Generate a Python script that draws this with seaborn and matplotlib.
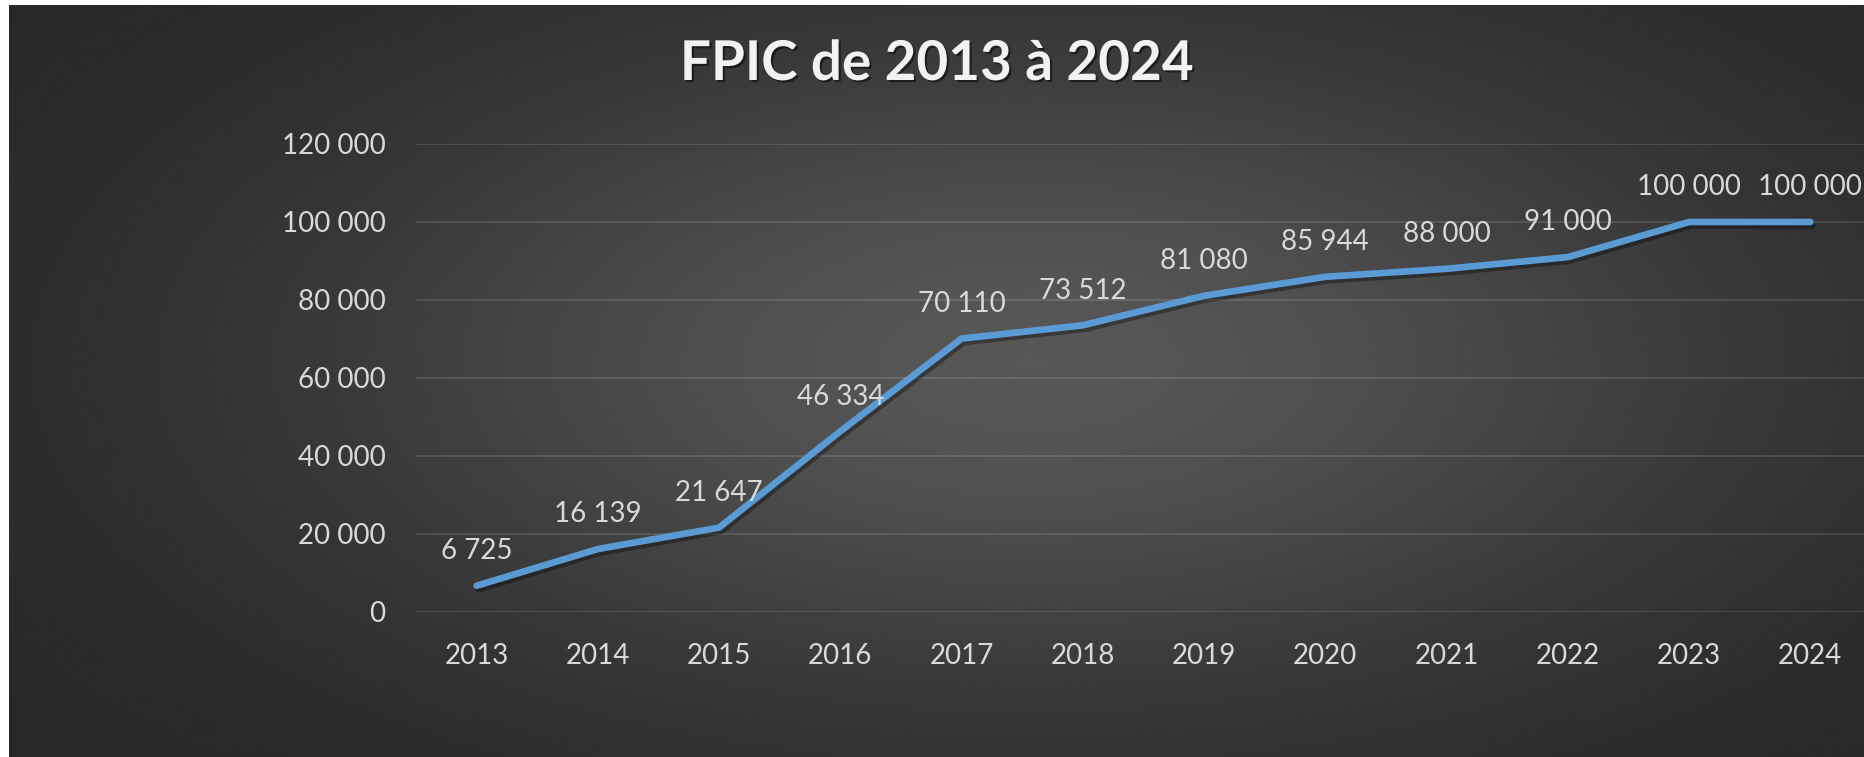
import numpy as np
import pandas as pd
import matplotlib
matplotlib.use("Agg")
import matplotlib.pyplot as plt
import matplotlib.patheffects as pe
from matplotlib.ticker import FuncFormatter
import seaborn as sns

# données
annees = ['2013', '2014', '2015', '2016', '2017', '2018',
          '2019', '2020', '2021', '2022', '2023', '2024']
fpic = [6725, 16139, 21647, 46334, 70110, 73512,
        81080, 85944, 88000, 91000, 100000, 100000]
titre = 'FPIC de 2013 à 2024'

sns.set_theme(style='dark')
plt.rcParams['font.family'] = ['Lato', 'DejaVu Sans']

W, H = 1865, 757
fig = plt.figure(figsize=(W / 100, H / 100), dpi=100, facecolor='white')

# fond dégradé radial
bg = fig.add_axes([9 / W, 0, 1 - 9 / W, 1 - 5 / H], zorder=-10)
gx, gy = np.meshgrid(np.linspace(-1, 1, 1200), np.linspace(-1, 1, 500))
r = np.sqrt(((gx - 0.1) / 1.05) ** 2 + ((gy + 0.05) / 1.2) ** 2)
val = 0.15 + 0.19 * np.exp(-(r / 0.75) ** 2)
bg.imshow(val, cmap='gray', vmin=0, vmax=1, aspect='auto', interpolation='bilinear')
bg.set_axis_off()

ax = fig.add_axes([416 / W, 1 - 612 / H, (1871 - 416) / W, (612 - 144) / H])
ax.patch.set_alpha(0)

df = pd.DataFrame({'annee': annees, 'fpic': fpic})
sns.lineplot(data=df, x='annee', y='fpic', ax=ax, color='#5b9bd5', linewidth=4.8,
             solid_capstyle='round', solid_joinstyle='round', zorder=3,
             path_effects=[pe.SimpleLineShadow(offset=(1.5, -2.5), shadow_color='black', alpha=0.35),
                           pe.Normal()])

fmt = lambda v: f'{int(v):,}'.replace(',', ' ')
for i, v in enumerate(fpic):
    ax.annotate(fmt(v), (i, v), xytext=(0, 25), textcoords='offset points',
                ha='center', va='center', fontsize=20, color='#d9d9d9', zorder=4)

ax.set_xlim(-0.5, len(annees) - 0.5)
ax.set_ylim(0, 120000)
ax.set_yticks(range(0, 120001, 20000))
ax.yaxis.set_major_formatter(FuncFormatter(lambda v, p: fmt(v)))
ax.grid(axis='y', color='white', alpha=0.14, linewidth=1.2)
ax.grid(axis='x', visible=False)
for s in ax.spines.values():
    s.set_visible(False)
ax.tick_params(axis='both', length=0, labelsize=20, labelcolor='#d9d9d9')
ax.tick_params(axis='x', pad=22)
ax.tick_params(axis='y', pad=22)
ax.set_xlabel('')
ax.set_ylabel('')

fig.text(937 / W, 1 - 64 / H, titre, ha='center', va='center', fontsize=39.5,
         fontweight='bold', color='#f2f2f2',
         path_effects=[pe.SimplePatchShadow(offset=(1.5, -1.5), shadow_rgbFace='black', alpha=0.5),
                       pe.Normal()])

fig.savefig('out.png', dpi=100, facecolor='white')
